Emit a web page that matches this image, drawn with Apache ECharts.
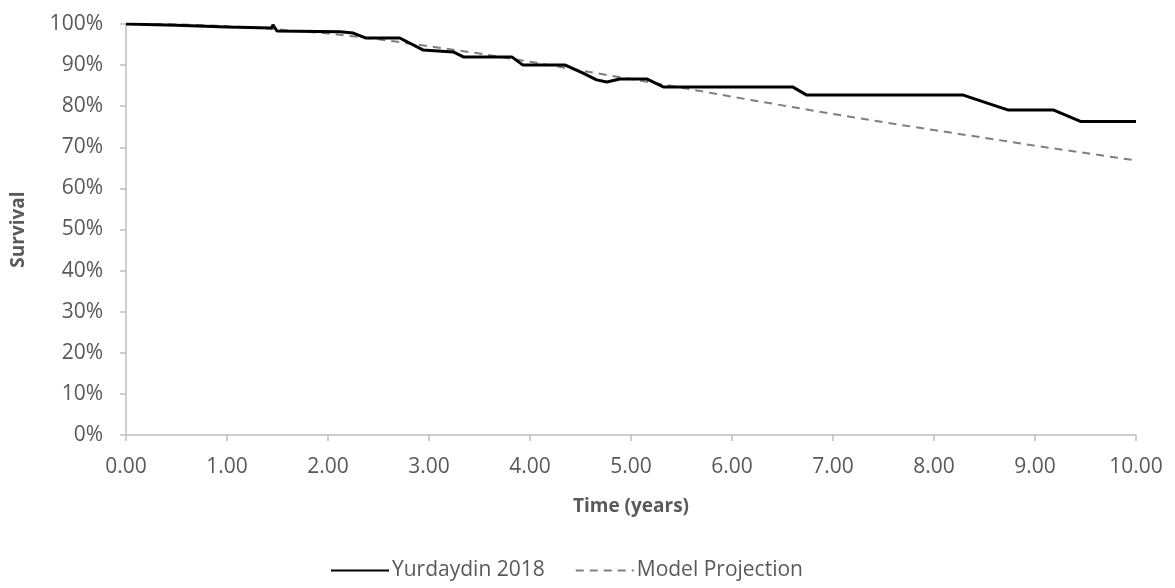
<!DOCTYPE html>
<html>
<head>
<meta charset="utf-8">
<script src="https://cdn.jsdelivr.net/npm/echarts@6/dist/echarts.min.js"></script>
<style>
  html, body { margin: 0; padding: 0; background: #fff; }
  #chart { width: 1175px; height: 588px; }
</style>
</head>
<body>
<div id="chart"></div>
<script>
// Observed Kaplan-Meier survival (years, %)
const observedYears = [0, 0.5, 1.0, 1.44, 1.455, 1.495, 2.12, 2.25, 2.37, 2.71, 2.94, 3.24, 3.34, 3.82, 3.93, 4.35, 4.52, 4.66, 4.76, 4.89, 5.16, 5.32, 6.60, 6.74, 8.29, 8.52, 8.73, 9.18, 9.45, 10.0];
const observedSurvival = [100, 99.7, 99.3, 99.0, 99.8, 98.3, 98.1, 97.8, 96.6, 96.6, 93.7, 93.2, 92.0, 92.0, 90.0, 90.0, 88.1, 86.4, 85.9, 86.6, 86.6, 84.7, 84.7, 82.7, 82.7, 80.8, 79.1, 79.1, 76.3, 76.3];

// Model projection (years, %)
const modelYears = [0, 0.5, 1.0, 1.5, 2.0, 2.5, 3.0, 3.5, 4.0, 4.5, 5.0, 5.5, 6.0, 6.5, 7.0, 7.5, 8.0, 8.5, 9.0, 9.5, 10.0];
const modelSurvival = [100, 99.9, 99.5, 98.7, 97.7, 96.3, 94.6, 92.8, 90.8, 88.7, 86.6, 84.5, 82.3, 80.2, 78.1, 76.1, 74.2, 72.3, 70.4, 68.6, 66.8];

const seriesNames = ['Yurdaydin 2018', 'Model Projection'];

const pairs = (xs, ys) => xs.map((x, i) => [x, ys[i]]);

const textColor = '#595959';
const axisColor = '#bfbfbf';
const fontFamily = '"Open Sans", "Noto Sans", sans-serif';

const chart = echarts.init(document.getElementById('chart'), null, { renderer: 'canvas' });
chart.setOption({
  animation: false,
  backgroundColor: '#ffffff',
  textStyle: { fontFamily: fontFamily },
  grid: { left: 126, right: 39, top: 24, bottom: 153, containLabel: false },
  xAxis: {
    type: 'value',
    min: 0, max: 10, interval: 1,
    name: 'Time (years)',
    nameLocation: 'middle',
    nameGap: 62,
    nameTextStyle: { color: textColor, fontSize: 19, fontWeight: 'bold', fontFamily: fontFamily },
    axisLine: { show: true, lineStyle: { color: axisColor, width: 1.5 } },
    axisTick: { show: true, length: 6, lineStyle: { color: axisColor, width: 1.5 } },
    axisLabel: { color: textColor, fontSize: 21, margin: 22, fontFamily: fontFamily,
      formatter: v => v.toFixed(2) },
    splitLine: { show: false }
  },
  yAxis: {
    type: 'value',
    min: 0, max: 100, interval: 10,
    name: 'Survival',
    nameLocation: 'middle',
    nameGap: 98,
    nameTextStyle: { color: textColor, fontSize: 19, fontWeight: 'bold', fontFamily: fontFamily },
    axisLine: { show: true, lineStyle: { color: axisColor, width: 1.5 } },
    axisTick: { show: true, length: 6, lineStyle: { color: axisColor, width: 1.5 } },
    axisLabel: { color: textColor, fontSize: 21, margin: 23, fontFamily: fontFamily,
      formatter: '{value}%' },
    splitLine: { show: false }
  },
  legend: {
    left: 325,
    top: 555,
    itemWidth: 58,
    itemHeight: 10,
    itemGap: 30,
    itemStyle: { color: 'transparent', borderColor: 'transparent', borderWidth: 0 },
    textStyle: { color: textColor, fontSize: 21, fontFamily: fontFamily, padding: [0, 0, 0, -2] },
    data: seriesNames
  },
  series: [
    {
      name: seriesNames[0],
      type: 'line',
      data: pairs(observedYears, observedSurvival),
      showSymbol: false,
      symbol: 'none',
      lineStyle: { color: '#000000', width: 3 },
      itemStyle: { color: '#000000' },
      z: 3
    },
    {
      name: seriesNames[1],
      type: 'line',
      data: pairs(modelYears, modelSurvival),
      showSymbol: false,
      symbol: 'none',
      lineStyle: { color: '#7f7f7f', width: 2, type: [8, 6] },
      itemStyle: { color: '#7f7f7f' },
      z: 2
    }
  ]
});
</script>
</body>
</html>
